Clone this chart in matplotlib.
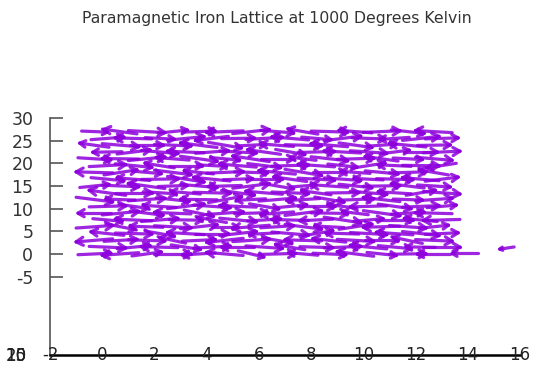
import numpy as np
import matplotlib
matplotlib.use("Agg")
import matplotlib.pyplot as plt
from matplotlib.collections import LineCollection
from matplotlib.transforms import blended_transform_factory

title = "Paramagnetic Iron Lattice at 1000 Degrees Kelvin"
x_ticks = [-2, 0, 2, 4, 6, 8, 10, 12, 14, 16]
z_ticks = [30, 25, 20, 15, 10, 5, 0, -5]
depth_labels = ["10", "15", "20"]

# lattice layer A
rows_a_z = [0, 3, 6, 9, 12, 15, 18, 21, 24, 27]
cols_a_x = [-0.3, 0.7, 1.7, 2.7, 3.7, 4.7, 5.7, 6.7, 7.7, 8.7, 9.7, 10.7, 11.7, 12.7]
U_a = [
    [0.9, -1.0, 0.8, 1.0, -0.9, -1.0, 0.7, 1.0, -0.8, 0.9, -1.0, 0.8, 1.0, -0.9],
    [-1.0, 0.9, 1.0, -0.7, 0.9, -1.0, 1.0, 0.8, -1.0, -0.9, 1.0, 0.9, -0.8, 1.0],
    [1.0, 0.8, -0.9, 1.0, 1.0, 0.7, -1.0, 0.9, 1.0, -0.8, 0.9, -1.0, 1.0, 0.8],
    [-0.9, 1.0, 0.9, -1.0, 0.8, 1.0, 0.9, -0.9, 1.0, 1.0, -0.7, 1.0, 0.9, -1.0],
    [1.0, -0.8, 1.0, 0.9, -1.0, 0.9, -0.8, 1.0, -0.9, 0.8, 1.0, -1.0, 0.8, 1.0],
    [0.8, 1.0, -1.0, 0.8, 1.0, -0.9, 1.0, 0.9, 0.7, -1.0, 0.9, 1.0, -0.9, 0.9],
    [-1.0, 0.9, 0.8, 1.0, -0.8, 1.0, 0.9, -1.0, 1.0, 0.9, -0.8, 0.9, 1.0, -0.8],
    [0.9, -1.0, 1.0, -0.9, 1.0, 0.8, -1.0, 0.9, -0.7, 1.0, 1.0, -0.9, 0.8, 1.0],
    [-0.8, 1.0, 0.9, 1.0, -1.0, 0.9, 0.8, -0.9, 1.0, -1.0, 0.9, 0.8, -1.0, 0.9],
    [0.7, -0.9, 1.0, 0.8, 0.9, -1.0, 1.0, 0.9, -0.8, 1.0, -0.9, 1.0, 0.9, -1.0],
]
W_a = [
    [0.3, -0.5, 0.8, 0.0, -0.4, 0.6, -1.2, 0.2, 0.5, -0.3, 0.9, -0.6, 0.1, 0.0],
    [-0.6, 0.4, -0.2, 1.1, 0.3, -0.8, 0.5, -1.0, 0.2, 0.7, -0.4, 0.0, 1.2, -0.3],
    [0.5, -1.1, 0.2, -0.4, 0.8, 0.0, -0.6, 0.4, -0.9, 0.3, 1.0, -0.2, -0.5, 0.6],
    [0.0, 0.7, -0.8, 0.3, -1.2, 0.5, 0.2, -0.5, 0.9, -0.1, 0.6, -1.0, 0.4, 0.2],
    [-0.9, 0.2, 0.5, -0.7, 0.1, 1.2, -0.3, 0.6, -0.4, -1.0, 0.3, 0.8, -0.2, 0.5],
    [0.6, -0.3, 1.0, 0.2, -0.6, -0.2, 0.9, -1.1, 0.4, 0.5, -0.7, 0.1, 0.8, -0.4],
    [0.2, 1.0, -0.5, -0.9, 0.6, 0.3, -0.2, 0.7, -1.2, 0.0, 0.4, -0.6, 0.2, 1.0],
    [-0.4, 0.1, 0.7, 0.5, -1.0, -0.5, 1.1, 0.0, 0.6, -0.8, 0.2, 0.9, -0.3, -0.6],
    [0.8, -0.6, 0.0, -0.3, 0.9, -1.1, 0.3, 0.5, -0.2, 0.6, -0.9, 0.4, 0.7, 0.1],
    [-0.2, 0.9, -0.4, 0.6, 0.2, -0.3, 0.8, -0.5, 1.0, -0.2, 0.5, 0.3, -0.7, 0.4],
]

# lattice layer B
rows_b_z = [1.5, 4.5, 7.5, 10.5, 13.5, 16.5, 19.5, 22.5, 25.5]
cols_b_x = [0.2, 1.2, 2.2, 3.2, 4.2, 5.2, 6.2, 7.2, 8.2, 9.2, 10.2, 11.2, 12.2, 13.0]
U_b = [
    [1.0, 0.9, -1.0, 0.8, 1.0, -0.9, 1.0, -0.8, 0.9, 1.0, -1.0, 0.9, -0.8, 1.0],
    [-0.9, 1.0, 0.8, -1.0, 0.9, 1.0, -0.8, 1.0, 0.9, -0.9, 1.0, -1.0, 1.0, 0.9],
    [0.8, -1.0, 1.0, 0.9, -0.8, 1.0, 0.9, -1.0, -0.9, 1.0, 0.8, 1.0, -0.9, -1.0],
    [1.0, 0.8, -0.9, 1.0, 1.0, -1.0, 0.8, 0.9, 1.0, -0.8, -1.0, 0.9, 1.0, 0.8],
    [-1.0, 1.0, 0.9, -0.8, 1.0, 0.9, -1.0, 1.0, -0.8, 0.9, 1.0, -0.9, 0.8, 1.0],
    [0.9, -0.9, 1.0, 1.0, -1.0, 0.8, 1.0, -0.9, 1.0, 1.0, -0.8, 1.0, -1.0, 0.9],
    [1.0, 1.0, -0.8, 0.9, 0.8, -1.0, 0.9, 1.0, -1.0, 0.8, 0.9, -0.9, 1.0, -0.8],
    [-0.8, 0.9, 1.0, -1.0, 0.9, 1.0, -0.9, 0.8, 1.0, -1.0, 1.0, 0.8, 0.9, 1.0],
    [0.9, -1.0, 0.8, 1.0, -0.9, 0.9, 1.0, -1.0, 0.8, 1.0, 0.9, -0.8, 1.0, 0.9],
]
W_b = [
    [-0.3, 0.6, 0.2, -0.9, 0.4, 0.0, -0.5, 1.0, -0.2, 0.3, 0.7, -0.6, 0.1, 0.0],
    [0.7, -0.2, -1.0, 0.4, 0.0, 0.8, -0.3, -0.6, 1.1, 0.2, -0.4, 0.5, -0.8, 0.3],
    [-0.5, 0.3, 0.6, -0.1, 1.0, -0.7, 0.4, 0.2, -0.3, -1.1, 0.5, 0.0, 0.6, -0.2],
    [0.2, -0.8, 0.4, 0.9, -0.5, 0.3, -1.0, 0.6, 0.0, 0.7, -0.2, -0.9, 0.3, 0.5],
    [1.0, 0.0, -0.4, 0.5, -0.2, -0.9, 0.6, -0.3, 0.8, 0.1, -0.6, 0.4, 1.0, -0.5],
    [-0.6, 0.5, 0.1, -1.1, 0.7, 0.2, 0.0, 0.9, -0.4, -0.5, 0.3, -0.2, 0.6, 0.8],
    [0.4, -0.7, 0.9, 0.0, -0.3, 0.6, -0.8, 0.2, 0.5, -0.6, 1.0, 0.3, -0.1, -0.9],
    [-0.1, 0.8, -0.6, 0.3, 0.5, -0.4, 0.9, -1.0, 0.2, 0.4, -0.5, 0.7, 0.0, 0.3],
    [0.5, 0.2, -0.3, 0.7, -0.8, 0.1, 0.4, 0.6, -0.5, 0.9, -0.2, -0.4, 0.8, 0.2],
]

# stray vectors to the right
extra_x = [13.9, 15.5]
extra_z = [0.1, 1.3]
extra_u = [-1.0, -0.55]
extra_w = [0.0, -0.6]

COLOR = "#8E00DC"
XLIM = (-2, 16)
ZLIM = (-22.3, 30)
ARROW_SCALE = 1.4

fig = plt.figure(figsize=(5.36, 3.66), dpi=100)
L, R, B, T = 50 / 536, 520 / 536, 11 / 366, 248 / 366
ax = fig.add_axes([L, B, R - L, T - B])
ax.set_xlim(*XLIM)
ax.set_ylim(*ZLIM)

px_x = (R - L) * 536 / (XLIM[1] - XLIM[0])
px_z = (T - B) * 366 / (ZLIM[1] - ZLIM[0])
s = px_z / px_x


def arrows(cx, cz, u, w, scale=ARROW_SCALE, ratio=0.22):
    segs = []
    for x0, z0, du, dw in zip(cx, cz, u, w):
        du, dw = du * scale, dw * scale * 0.8
        tx, tz = x0 - du / 2, z0 - dw / 2
        hx, hz = x0 + du / 2, z0 + dw / 2
        segs.append([(tx, tz), (hx, hz)])
        vx, vz = -du, -dw * s
        ln = np.hypot(vx, vz)
        vx, vz = vx / ln, vz / ln
        h = ratio * ln
        for ang in (np.pi / 6, -np.pi / 6):
            c, sn = np.cos(ang), np.sin(ang)
            rx = vx * c - vz * sn
            rz = vx * sn + vz * c
            segs.append([(hx, hz), (hx + h * rx, hz + h * rz / s)])
    return segs


segs = []
for zi, z in enumerate(rows_a_z):
    segs += arrows(cols_a_x, [z] * len(cols_a_x), U_a[zi], W_a[zi])
for zi, z in enumerate(rows_b_z):
    segs += arrows(cols_b_x, [z] * len(cols_b_x), U_b[zi], W_b[zi])
segs += arrows(extra_x, extra_z, extra_u, extra_w, scale=1.0)

lc = LineCollection(segs, colors=COLOR, linewidths=2.3, capstyle="round",
                    joinstyle="round", alpha=0.85)
ax.add_collection(lc)

for sp in ("top", "right"):
    ax.spines[sp].set_visible(False)
ax.spines["left"].set_color("#555555")
ax.spines["left"].set_linewidth(1.2)
ax.spines["left"].set_bounds(ZLIM[0], 30)
ax.spines["bottom"].set_color("black")
ax.spines["bottom"].set_linewidth(1.8)

ax.set_yticks(z_ticks)
ax.set_yticklabels([str(t) for t in z_ticks], fontsize=12.5, color="#333333")
ax.tick_params(axis="y", direction="in", length=9, width=1.2, color="#555555", pad=12)

ax.set_xticks([])
trans = blended_transform_factory(ax.transData, ax.transAxes)
for t in x_ticks:
    ax.text(t, 0, str(t), transform=trans, ha="center", va="center",
            fontsize=12, color="#222222", zorder=5)

for lab in depth_labels:
    fig.text(16 / 536, 1 - 356 / 366, lab, ha="center", va="center",
             fontsize=12, color="#222222")

fig.text(277 / 536, 1 - 19 / 366, title, ha="center", va="center",
         fontsize=11.3, color="#333333")

fig.savefig("out.png", dpi=100)
